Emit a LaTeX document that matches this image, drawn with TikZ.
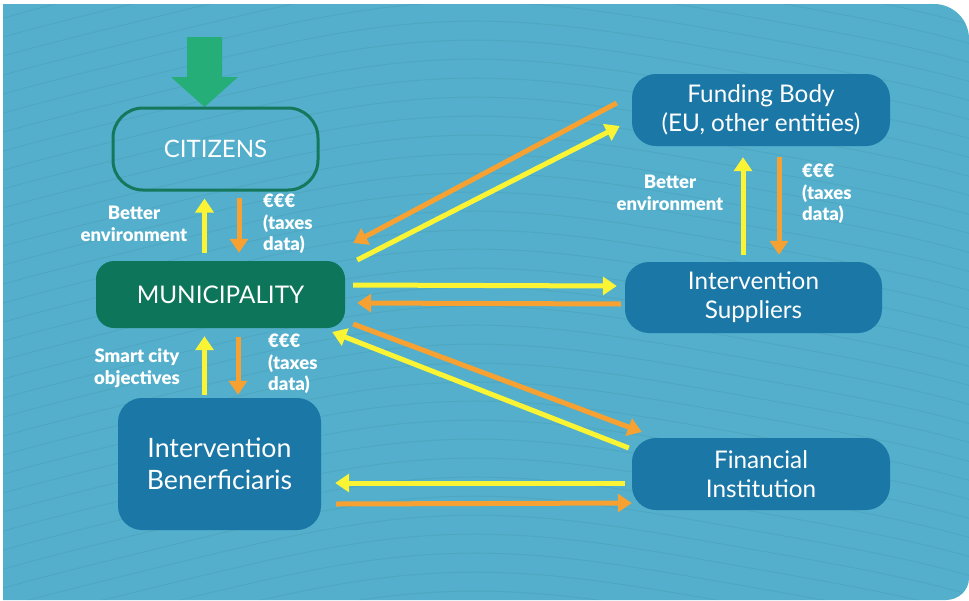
\documentclass[tikz,border=0pt]{standalone}
\usepackage{fontspec}
\setmainfont{Lato}
\newfontfamily\lblfont{Lato Black}
\usetikzlibrary{arrows.meta,calc}
\definecolor{bgblue}{RGB}{83,175,203}
\definecolor{boxblue}{RGB}{27,119,166}
\definecolor{munigreen}{RGB}{13,117,89}
\definecolor{citgreen}{RGB}{21,120,92}
\definecolor{bigarrow}{RGB}{38,174,120}
\definecolor{flowyellow}{RGB}{250,244,52}
\definecolor{floworange}{RGB}{246,161,49}
\tikzset{
  actor/.style={rounded corners=24pt,inner sep=0pt,text=white,align=center,fill=boxblue},
  yarr/.style={draw=flowyellow,line width=5pt,-{Triangle[length=14pt,width=18pt]}},
  oarr/.style={draw=floworange,line width=5pt,-{Triangle[length=14pt,width=18pt]}},
  flowlbl/.style={text=white,font=\lblfont\fontsize{18.5}{21.5}\selectfont,inner sep=0pt}
}
\begin{document}
\begin{tikzpicture}[x=1pt,y=-1pt]
\useasboundingbox (0,0) rectangle (969,600);
\fill[white] (0,0) rectangle (969,600);
\fill[bgblue] (3,4) -- (934,4) to[out=0,in=90] (969,39) -- (969,578) to[out=-90,in=0] (946,600) -- (3,600) -- cycle;
\begin{scope}
\clip (3,4) -- (934,4) to[out=0,in=90] (969,39) -- (969,578) to[out=-90,in=0] (946,600) -- (3,600) -- cycle;
\foreach \i in {-12,...,40}
  \draw[black,opacity=0.05,line width=0.8pt] plot[domain=0:969,samples=60,smooth] (\x,{\i*19-0.35*\x+0.00035*\x*\x+6*sin(\x*0.6)});
\end{scope}
\fill[bigarrow] (187,37) -- (222,37) -- (222,77) -- (238,77) -- (204.5,107) -- (171,77) -- (187,77) -- cycle;
\node[actor,fill=none,draw=citgreen,line width=3pt,rounded corners=30pt,minimum width=205pt,minimum height=82pt,font=\fontsize{24}{28}\selectfont] (citizens) at (215.5,149) {CITIZENS};
\node[actor,fill=munigreen,rounded corners=18pt,minimum width=249pt,minimum height=67pt,font=\fontsize{24.3}{28}\selectfont] (muni) at (220.5,294.5) {MUNICIPALITY};
\node[actor,minimum width=203pt,minimum height=132pt,font=\fontsize{26.7}{32}\selectfont] (benef) at (219.5,464) {Intervention\\Benerficiaris};
\node[actor,minimum width=258pt,minimum height=72pt,font=\fontsize{24.3}{29}\selectfont] (funding) at (761,110) {Funding Body\\(EU, other entities)};
\node[actor,minimum width=257pt,minimum height=71pt,font=\fontsize{24.3}{29}\selectfont] (suppliers) at (753.5,297.5) {Intervention\\Suppliers};
\node[actor,minimum width=258pt,minimum height=72pt,font=\fontsize{24.3}{29}\selectfont] (financial) at (761,474) {Financial\\Institution};
\draw[yarr] ($(muni.north)+(-16,-8)$) -- ($(citizens.south)+(-11,7)$);
\draw[oarr] ($(citizens.south)+(23.5,6)$) -- ($(muni.north)+(18.5,-8)$);
\draw[yarr] ($(benef.north)+(-15,-3)$) -- ($(muni.south)+(-16,8)$);
\draw[oarr] ($(muni.south)+(17.5,9)$) -- ($(benef.north)+(18.5,-3)$);
\draw[yarr] ($(suppliers.north)+(-10.5,-7)$) -- ($(funding.south)+(-18,11)$);
\draw[oarr] ($(funding.south)+(18,11)$) -- ($(suppliers.north)+(25.5,-7)$);
\draw[oarr] ($(funding.west)+(-15,-7)$) -- ($(muni.east)+(8,-51.5)$);
\draw[yarr] ($(muni.east)+(12,-34.5)$) -- ($(funding.west)+(-12,16)$);
\draw[yarr] ($(muni.east)+(8,-9.5)$) -- ($(suppliers.west)+(-8,-11.5)$);
\draw[oarr] ($(suppliers.west)+(-4,6.5)$) -- ($(muni.east)+(12,8.5)$);
\draw[oarr] ($(muni.east)+(8,29.5)$) -- ($(financial.west)+(10,-42)$);
\draw[yarr] ($(financial.west)+(-3,-26)$) -- ($(muni.east)+(-13,37.5)$);
\draw[yarr] ($(financial.west)+(-7,9)$) -- ($(benef.east)+(14,19)$);
\draw[oarr] ($(benef.east)+(15,40)$) -- ($(financial.west)+(0,29)$);
\node[flowlbl,align=center] (citgain) at (134,224) {Better\\environment};
\node[flowlbl,anchor=west,align=left] (citpay) at (263,224) {€€€\\(taxes\\data)};
\node[flowlbl,align=center] (benefgain) at (137,368) {Smart city\\objectives};
\node[flowlbl,anchor=west,align=left] (benefpay) at (268,364) {€€€\\(taxes\\data)};
\node[flowlbl,align=center] (fundgain) at (670,193) {Better\\environment};
\node[flowlbl,anchor=west,align=left] (fundpay) at (802,194) {€€€\\(taxes\\data)};
\end{tikzpicture}
\end{document}
